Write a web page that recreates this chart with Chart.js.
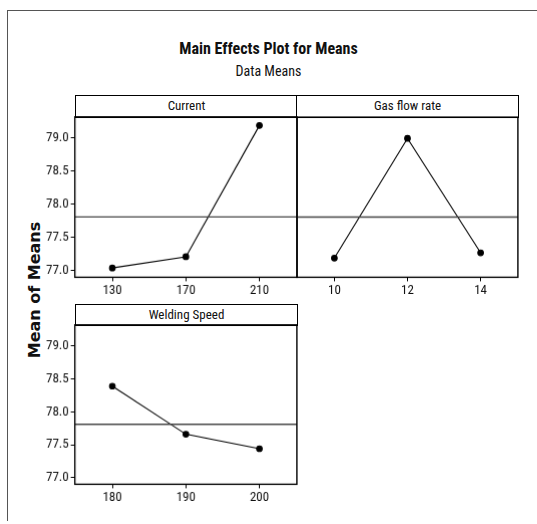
<!DOCTYPE html>
<html>
<head>
<meta charset="utf-8">
<script src="https://cdn.jsdelivr.net/npm/chart.js@4/dist/chart.umd.min.js"></script>
<style>
  body { margin: 0; background: #fff; width: 537px; height: 524px; overflow: hidden; position: relative; font-family: "Roboto Condensed", "DejaVu Sans Condensed", sans-serif; color: #111; }
  .frame { position: absolute; left: 7px; top: 10px; width: 560px; height: 510px; border-left: 1.6px solid #555; border-top: 1.6px solid #555; }
  .title { position: absolute; left: 0; width: 537px; text-align: center; }
  .strip { position: absolute; box-sizing: border-box; border: 1.4px solid #000; text-align: center; font-size: 13px; line-height: 20px; background: #fff; }
  .ytitle { position: absolute; left: 34px; top: 290px; transform: translate(-50%, -50%) rotate(-90deg); font: bold 16px "DejaVu Sans", sans-serif; white-space: nowrap; }
  canvas { position: absolute; }
</style>
</head>
<body>
<div class="frame"></div>
<div class="title" style="top:39px;font-weight:bold;font-size:16px;">Main Effects Plot for Means</div>
<div class="title" style="top:63px;font-size:14px;">Data Means</div>
<div class="ytitle">Mean of Means</div>

<div class="strip" style="left:75px;top:95px;width:223px;height:23px;">Current</div>
<div class="strip" style="left:296px;top:95px;width:223px;height:23px;">Gas flow rate</div>
<div class="strip" style="left:75px;top:304px;width:223px;height:22px;">Welding Speed</div>

<canvas id="c1"></canvas>
<canvas id="c2"></canvas>
<canvas id="c3"></canvas>

<script>
// factor levels and means
const currentLevels = [130, 170, 210];
const currentMeans = [77.04, 77.21, 79.19];
const gasLevels = [10, 12, 14];
const gasMeans = [77.19, 79.0, 77.27];
const speedLevels = [180, 190, 200];
const speedMeans = [78.39, 77.66, 77.44];
const grandMean = 77.81;
const yTicks = [77.0, 77.5, 78.0, 78.5, 79.0];

const tickFont = { family: '"Roboto Condensed", "DejaVu Sans Condensed", sans-serif', size: 13 };

// frame round the plot area + horizontal line at the grand mean
const panelPlugin = {
  id: 'panel',
  afterDatasetsDraw(chart) {
    const { ctx, chartArea: a, scales } = chart;
    const y = scales.y.getPixelForValue(grandMean);
    ctx.save();
    ctx.strokeStyle = '#444';
    ctx.lineWidth = 1.4;
    ctx.beginPath();
    ctx.moveTo(a.left, y);
    ctx.lineTo(a.right, y);
    ctx.stroke();
    ctx.strokeStyle = '#000';
    ctx.lineWidth = 1.4;
    ctx.strokeRect(a.left, a.top, a.right - a.left, a.bottom - a.top);
    ctx.restore();
  }
};

function panelConfig(levels, means, showY) {
  const step = levels[1] - levels[0];
  return {
    type: 'line',
    data: {
      datasets: [{
        data: levels.map((v, i) => ({ x: v, y: means[i] })),
        borderColor: '#000',
        borderWidth: 1.1,
        pointBackgroundColor: '#000',
        pointBorderColor: '#000',
        pointRadius: 2.8,
        tension: 0
      }]
    },
    options: {
      responsive: false,
      animation: false,
      layout: { padding: 4 },
      plugins: { legend: { display: false }, tooltip: { enabled: false } },
      scales: {
        x: {
          type: 'linear',
          min: levels[0] - step * 0.51,
          max: levels[2] + step * 0.51,
          afterBuildTicks: s => { s.ticks = levels.map(v => ({ value: v })); },
          grid: { drawOnChartArea: false, tickLength: 4, color: '#000' },
          border: { display: false },
          ticks: { color: '#111', font: tickFont, padding: 2, maxRotation: 0 }
        },
        y: {
          display: showY,
          min: 76.9,
          max: 79.32,
          afterBuildTicks: s => { s.ticks = yTicks.map(v => ({ value: v })); },
          grid: { drawOnChartArea: false, tickLength: 4, color: '#000' },
          border: { display: false },
          ticks: { color: '#111', font: tickFont, padding: 2, callback: v => v.toFixed(1) }
        }
      }
    },
    plugins: [panelPlugin]
  };
}

// build once to measure the margins, then size/place the canvas so the
// plot area lands on the wanted box
function placePanel(id, levels, means, showY, box) {
  const cv = document.getElementById(id);
  cv.width = 300; cv.height = 220;
  let probe = new Chart(cv, panelConfig(levels, means, showY));
  const a = probe.chartArea;
  const w = 300 + box.w - (a.right - a.left);
  const h = 220 + box.h - (a.bottom - a.top);
  const l = box.x - a.left, t = box.y - a.top;
  probe.destroy();
  cv.width = w; cv.height = h;
  cv.style.width = w + 'px'; cv.style.height = h + 'px';
  cv.style.left = l + 'px'; cv.style.top = t + 'px';
  new Chart(cv, panelConfig(levels, means, showY));
}

placePanel('c1', currentLevels, currentMeans, true, { x: 75, y: 117, w: 222, h: 160 });
placePanel('c2', gasLevels, gasMeans, false, { x: 297, y: 117, w: 221, h: 160 });
placePanel('c3', speedLevels, speedMeans, true, { x: 75, y: 325, w: 222, h: 159 });
</script>
</body>
</html>
